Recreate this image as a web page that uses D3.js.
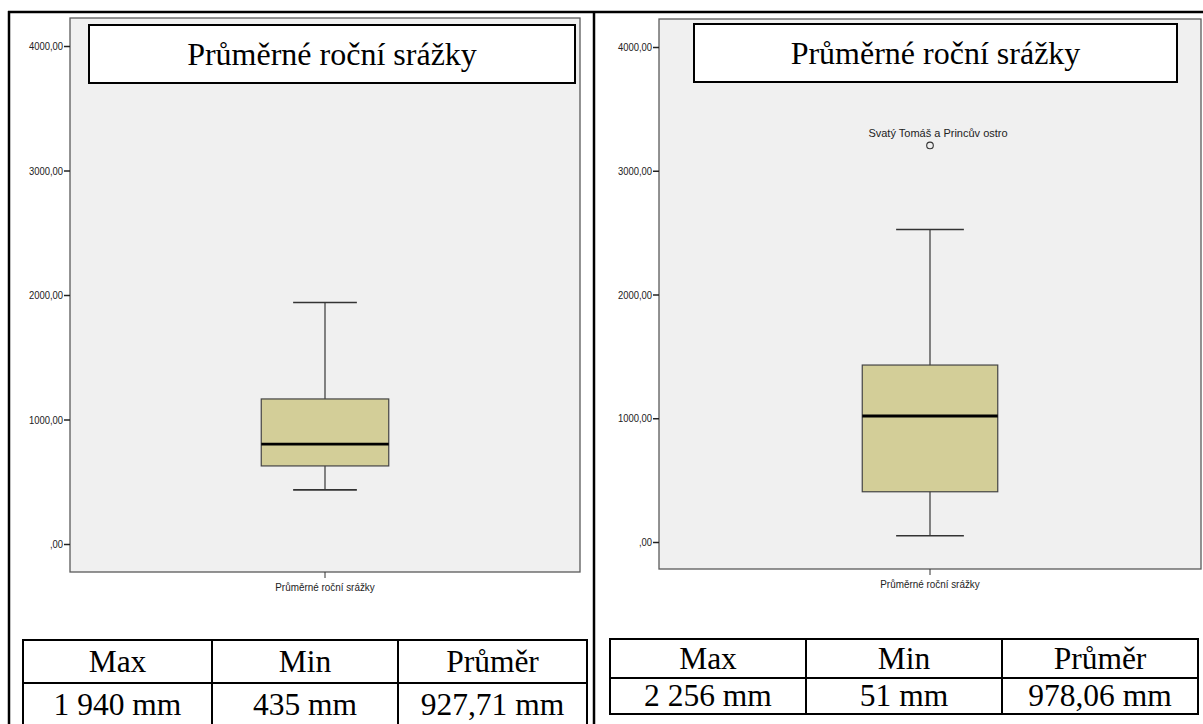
<!DOCTYPE html>
<html lang="cs">
<head>
  <meta charset="UTF-8">
  <title>Průměrné roční srážky</title>
  <script src='https://d3js.org/d3.v7.min.js'></script>
  <style>
    body { margin: 0; background: #fff; }
  </style>
</head>
<body>
</body>
<script>
  const width = 1203, height = 724;

  // data
  const categoryLabel = 'Průměrné roční srážky';
  const chartTitle = 'Průměrné roční srážky';
  const yTicks = [0, 1000, 2000, 3000, 4000];
  const whiskerLow = [435, 51];
  const q1 = [627, 406];
  const median = [803, 1018];
  const q3 = [1165, 1430];
  const whiskerHigh = [1940, 2525];
  const outlierValues = [[], [3205]];
  const outlierLabels = [[], ['Svatý Tomáš a Princův ostro']];
  const tableHead = ['Max', 'Min', 'Průměr'];
  const tableValues = [
    ['1 940 mm', '435 mm', '927,71 mm'],
    ['2 256 mm', '51 mm', '978,06 mm']
  ];

  const smallFont = 'Liberation Sans, Arial, sans-serif';
  const serifFont = 'Liberation Serif, Times New Roman, serif';

  // layout of the two panels
  const panels = [
    {x0: 70, x1: 580, y0: 18, y1: 572, yZero: 544, yTop: 46,
     title: [89, 25, 486, 58],
     table: {x: [23, 212, 398, 587], y: [640, 683, 727]}},
    {x0: 659, x1: 1201, y0: 19, y1: 569, yZero: 542, yTop: 47,
     title: [694, 24, 483, 58],
     table: {x: [610, 806, 1002, 1198], y: [639, 678, 714]}}
  ];

  const svg = d3.select('body').append('svg')
    .attr('width', width).attr('height', height);

  // outer frame lines
  svg.append('line').attr('x1', 8).attr('x2', width).attr('y1', 12).attr('y2', 12)
    .attr('stroke', '#000').attr('stroke-width', 2.5);
  svg.append('line').attr('x1', 9).attr('x2', 9).attr('y1', 11).attr('y2', height)
    .attr('stroke', '#000').attr('stroke-width', 2.5);
  svg.append('line').attr('x1', 594).attr('x2', 594).attr('y1', 11).attr('y2', height)
    .attr('stroke', '#000').attr('stroke-width', 2.5);

  panels.forEach(function(p, i) {
    const g = svg.append('g');

    const y = d3.scaleLinear().domain([0, 4000]).range([p.yZero, p.yTop]);
    const x = d3.scaleBand().domain([categoryLabel]).range([p.x0, p.x1])
      .paddingInner(0).paddingOuter(1.5);
    const cx = x(categoryLabel) + x.bandwidth() / 2;
    const bw = x.bandwidth();

    // plot background
    g.append('rect')
      .attr('x', p.x0).attr('y', p.y0)
      .attr('width', p.x1 - p.x0).attr('height', p.y1 - p.y0)
      .attr('fill', '#f0f0f0').attr('stroke', '#5a5a5a').attr('stroke-width', 1.3);

    // y axis (narrowed labels like the SPSS font)
    const yAxis = d3.axisLeft(y).tickValues(yTicks).tickSize(6)
      .tickFormat(d => d === 0 ? ',00' : d + ',00');
    const ag = g.append('g').attr('transform', `translate(${p.x0},0)`).call(yAxis);
    ag.select('.domain').remove();
    ag.selectAll('.tick line').attr('stroke', '#222').attr('stroke-width', 1.5);
    ag.selectAll('.tick text')
      .attr('font-family', smallFont)
      .attr('font-size', 11).attr('fill', '#222').attr('x', -8)
      .attr('transform', 'scale(0.86,1)');

    // x axis (one category)
    const xAxis = d3.axisBottom(x).tickSize(6).tickPadding(5);
    const xg = g.append('g').attr('transform', `translate(0,${p.y1})`).call(xAxis);
    xg.select('.domain').remove();
    xg.selectAll('.tick line').attr('stroke', '#333');
    xg.selectAll('.tick text')
      .attr('font-family', smallFont)
      .attr('font-size', 11).attr('fill', '#222')
      .attr('transform', 'scale(0.9,1)');

    // whisker stem
    g.append('line')
      .attr('x1', cx).attr('x2', cx)
      .attr('y1', y(whiskerLow[i])).attr('y2', y(whiskerHigh[i]))
      .attr('stroke', '#444').attr('stroke-width', 1.3);
    // whisker caps
    [whiskerLow[i], whiskerHigh[i]].forEach(function(v) {
      g.append('line')
        .attr('x1', cx - bw / 4).attr('x2', cx + bw / 4)
        .attr('y1', y(v)).attr('y2', y(v))
        .attr('stroke', '#333').attr('stroke-width', 1.6);
    });

    // box
    g.append('rect')
      .attr('x', cx - bw / 2).attr('y', y(q3[i]))
      .attr('width', bw).attr('height', y(q1[i]) - y(q3[i]))
      .attr('fill', '#d3ce98').attr('stroke', '#444').attr('stroke-width', 1.2);
    g.append('line')
      .attr('x1', cx - bw / 2).attr('x2', cx + bw / 2)
      .attr('y1', y(median[i])).attr('y2', y(median[i]))
      .attr('stroke', '#000').attr('stroke-width', 2.8);

    // outliers
    outlierValues[i].forEach(function(v, k) {
      g.append('circle')
        .attr('cx', cx).attr('cy', y(v)).attr('r', 3.3)
        .attr('fill', 'none').attr('stroke', '#333').attr('stroke-width', 1.1);
      g.append('text')
        .attr('x', cx + 8).attr('y', y(v) - 8)
        .attr('text-anchor', 'middle')
        .attr('font-family', smallFont)
        .attr('font-size', 11).attr('fill', '#222')
        .text(outlierLabels[i][k]);
    });

    // title box
    const t = p.title;
    g.append('rect')
      .attr('x', t[0]).attr('y', t[1]).attr('width', t[2]).attr('height', t[3])
      .attr('fill', '#fff').attr('stroke', '#000').attr('stroke-width', 2);
    g.append('text')
      .attr('x', t[0] + t[2] / 2).attr('y', t[1] + 40)
      .attr('text-anchor', 'middle')
      .attr('font-family', serifFont)
      .attr('font-size', 32)
      .text(chartTitle);

    // summary table under the chart
    const tb = p.table;
    const tg = svg.append('g');
    tg.append('rect')
      .attr('x', tb.x[0]).attr('y', tb.y[0])
      .attr('width', tb.x[3] - tb.x[0]).attr('height', tb.y[2] - tb.y[0])
      .attr('fill', 'none').attr('stroke', '#000').attr('stroke-width', 2);
    tg.append('line')
      .attr('x1', tb.x[0]).attr('x2', tb.x[3]).attr('y1', tb.y[1]).attr('y2', tb.y[1])
      .attr('stroke', '#000').attr('stroke-width', 2);
    [tb.x[1], tb.x[2]].forEach(function(xx) {
      tg.append('line')
        .attr('x1', xx).attr('x2', xx).attr('y1', tb.y[0]).attr('y2', tb.y[2])
        .attr('stroke', '#000').attr('stroke-width', 2);
    });
    const rows = [tableHead, tableValues[i]];
    rows.forEach(function(row, r) {
      tg.selectAll(null)
        .data(row)
        .join('text')
        .attr('x', (_, c) => (tb.x[c] + tb.x[c + 1]) / 2)
        .attr('y', (tb.y[r] + tb.y[r + 1]) / 2 + 10)
        .attr('text-anchor', 'middle')
        .attr('font-family', serifFont)
        .attr('font-size', 31.5)
        .text(d => d);
    });
  });
</script>
</html>
